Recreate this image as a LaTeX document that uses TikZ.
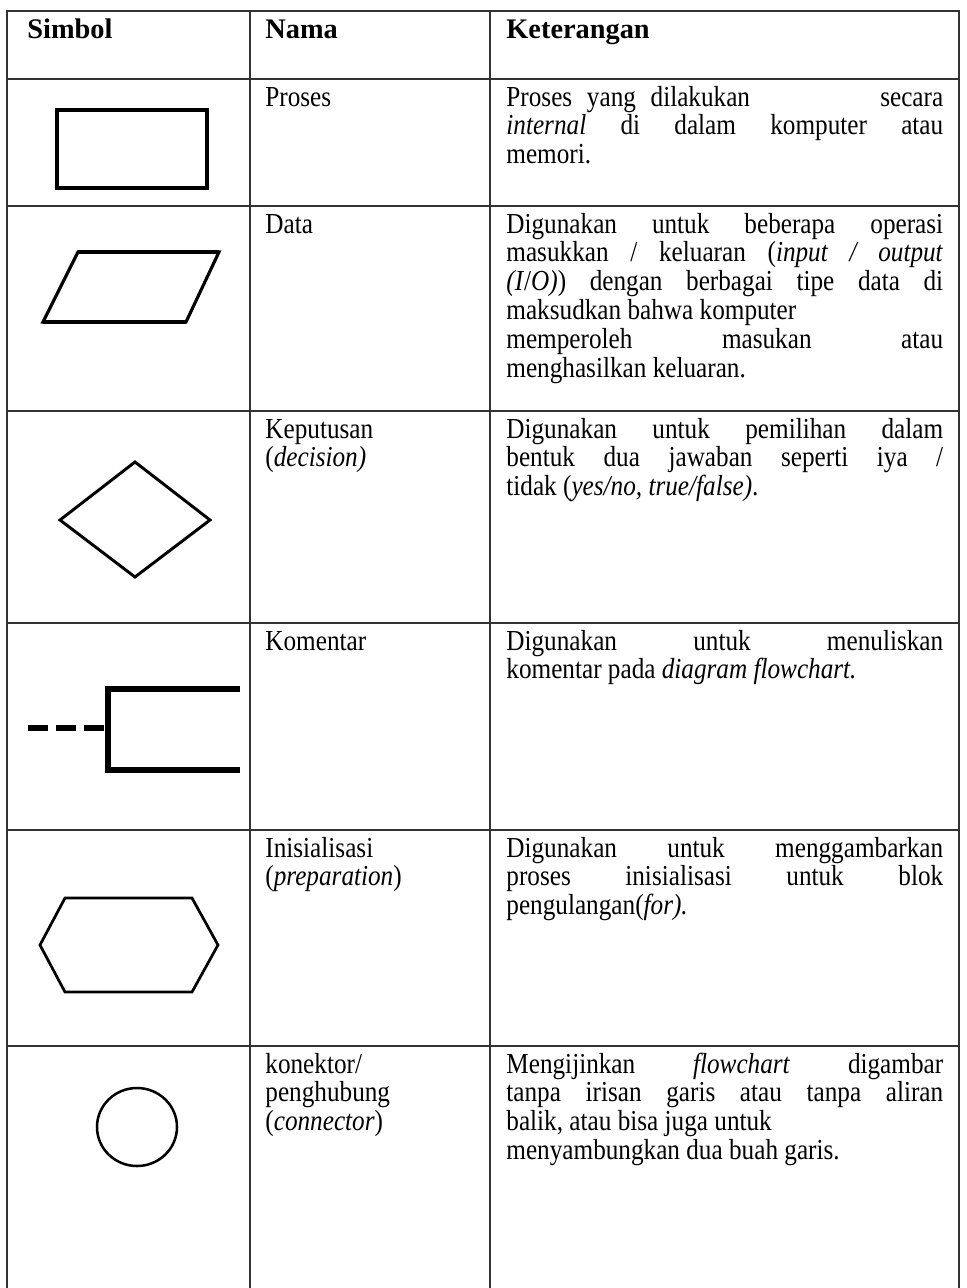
\documentclass[tikz,border=0pt]{standalone}
\usepackage{fontspec}
\setmainfont{Liberation Serif}[UprightFeatures={FakeStretch=0.87},ItalicFeatures={FakeStretch=0.87}]

\begin{document}
\begin{tikzpicture}[x=0.4762pt,y=-0.4762pt,
    rule/.style={line width=0.7pt,black!80},
    cell/.style={anchor=base west,inner sep=0pt,font=\fontsize{13.8}{13.8}\selectfont},
    head/.style={cell,font=\fontsize{13.5}{13.8}\selectfont\bfseries},
    nama/.style={cell,text width=100pt,align=left},
    ket/.style={cell,text width=208pt,align=justify}]
    \useasboundingbox (0,0) rectangle (966,1288);
    \fill[white] (0,0) rectangle (966,1288);
    \draw[rule] (7,1288) -- (7,11) -- (959,11) -- (959,1288);
    \foreach \y in {79,206,411,623,830,1046}
        \draw[rule] (7,\y) -- (959,\y);
    \foreach \x in {250,490}
        \draw[rule] (\x,11) -- (\x,1288);
    \node[head] (simbol) at (27,38) {Simbol};
    \node[head] (nama) at (265,38) {Nama};
    \node[head] (keterangan) at (506,38) {Keterangan};
    \draw[line width=2pt] (57,110) rectangle (207,188);
    \node[nama] (proses) at (265,106) {Proses};
    \node[ket] (ketproses) at (506,106) {Proses\hspace{7pt}yang\hspace{7pt}dilakukan\hfill secara\linebreak \textit{internal} di dalam komputer atau\linebreak memori.};
    \draw[line width=1.5pt,line join=miter] (78,252) -- (219,252) -- (186,322) -- (43,322) -- cycle;
    \draw[line width=2pt] (78,252) -- (219,252) (186,322) -- (43,322);
    \node[nama] (data) at (265,233) {Data};
    \node[ket] (ketdata) at (506,233) {Digunakan untuk beberapa operasi\linebreak masukkan / keluaran (\textit{input / output}\linebreak \textit{(I}/\textit{O)}) dengan berbagai tipe data di\linebreak maksudkan bahwa komputer\newline memperoleh masukan atau\linebreak menghasilkan keluaran.};
    \draw[line width=1.4pt] (135,462) -- (210,520) -- (135,577) -- (60,520) -- cycle;
    \node[nama] (keputusan) at (265,438) {Keputusan\\(\textit{decision)}};
    \node[ket] (ketkeputusan) at (506,438) {Digunakan untuk pemilihan dalam\linebreak bentuk dua jawaban seperti iya /\linebreak tidak (\textit{yes/no, true/false)}.};
    \draw[line width=2.9pt,dash pattern=on 9.5pt off 3.8pt] (28,728) -- (106,728);
    \draw[line width=3.3pt] (240,689) -- (108,689) -- (108,770) -- (240,770);
    \node[nama] (komentar) at (265,650) {Komentar};
    \node[ket] (ketkomentar) at (506,650) {Digunakan untuk menuliskan\linebreak komentar pada \textit{diagram flowchart.}};
    \draw[line width=1.3pt] (40,945) -- (65,898) -- (192,898) -- (218,945) -- (192,992) -- (65,992) -- cycle;
    \node[nama] (inisialisasi) at (265,857) {Inisialisasi\\(\textit{preparation})};
    \node[ket] (ketinisialisasi) at (506,857) {Digunakan untuk menggambarkan\linebreak proses inisialisasi untuk blok\linebreak pengulangan(\textit{for).}};
    \draw[line width=1.2pt] (137,1127) ellipse [x radius=40,y radius=39];
    \node[nama] (konektor) at (265,1073) {konektor/\\penghubung\\(\textit{connector})};
    \node[ket] (ketkonektor) at (506,1073) {Mengijinkan \textit{flowchart} digambar\linebreak tanpa irisan garis atau tanpa aliran\linebreak balik, atau bisa juga untuk\newline menyambungkan dua buah garis.};
\end{tikzpicture}
\end{document}
